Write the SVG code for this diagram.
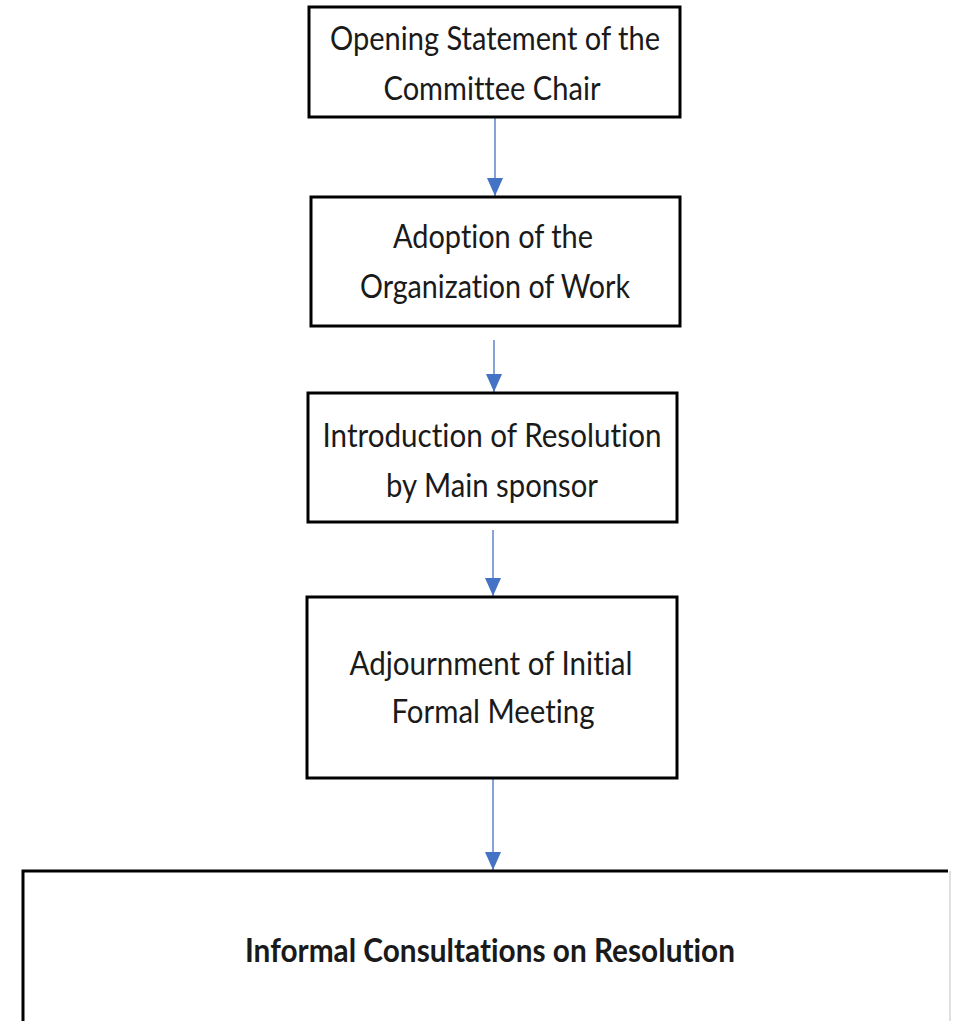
<svg xmlns="http://www.w3.org/2000/svg" width="953" height="1021" viewBox="0 0 953 1021">
  <style>
    .box { fill: #ffffff; stroke: #000000; stroke-width: 3; }
    .lbl { font-family: Lato, "Liberation Sans", sans-serif; font-size: 33px; fill: #1a1a1a; text-anchor: middle; font-variant-ligatures: none; }
    .bold { font-weight: bold; }
    .conn { stroke: #4472C4; stroke-width: 1.3; fill: none; }
  </style>
  <defs>
    <marker id="arrow" markerUnits="userSpaceOnUse" markerWidth="18" markerHeight="16" refX="18" refY="8" orient="auto">
      <path d="M0,0 L18,8 L0,16 Z" fill="#4472C4"/>
    </marker>
  </defs>
  <rect width="953" height="1021" fill="#ffffff"/>

  <g id="connectors">
    <line class="conn" x1="495" y1="118" x2="495" y2="196" marker-end="url(#arrow)"/>
    <line class="conn" x1="494" y1="340" x2="494" y2="392" marker-end="url(#arrow)"/>
    <line class="conn" x1="493" y1="530" x2="493" y2="596" marker-end="url(#arrow)"/>
    <line class="conn" x1="493" y1="779" x2="493" y2="870" marker-end="url(#arrow)"/>
  </g>

  <g id="node-opening">
    <rect class="box" x="309" y="7" width="371" height="110"/>
    <text class="lbl" x="495" y="50" textLength="330" lengthAdjust="spacingAndGlyphs">Opening Statement of the</text>
    <text class="lbl" x="492" y="100" textLength="217" lengthAdjust="spacingAndGlyphs">Committee Chair</text>
  </g>

  <g id="node-adoption">
    <rect class="box" x="311" y="197" width="369" height="129"/>
    <text class="lbl" x="493" y="248" textLength="200" lengthAdjust="spacingAndGlyphs">Adoption of the</text>
    <text class="lbl" x="495" y="298" textLength="270" lengthAdjust="spacingAndGlyphs">Organization of Work</text>
  </g>

  <g id="node-introduction">
    <rect class="box" x="308" y="393" width="369" height="129"/>
    <text class="lbl" x="492" y="447" textLength="339" lengthAdjust="spacingAndGlyphs">Introduction of Resolution</text>
    <text class="lbl" x="492" y="497" textLength="212" lengthAdjust="spacingAndGlyphs">by Main sponsor</text>
  </g>

  <g id="node-adjournment">
    <rect class="box" x="307" y="597" width="370" height="181"/>
    <text class="lbl" x="491" y="675" textLength="283" lengthAdjust="spacingAndGlyphs">Adjournment of Initial</text>
    <text class="lbl" x="493" y="723" textLength="203" lengthAdjust="spacingAndGlyphs">Formal Meeting</text>
  </g>

  <g id="node-informal">
    <rect x="23" y="871" width="925" height="170" fill="#ffffff" stroke="none"/>
    <path d="M23,1030 L23,871 L948,871" fill="none" stroke="#000000" stroke-width="3"/>
    <line x1="950" y1="871" x2="950" y2="1030" stroke="#d6d6d6" stroke-width="1.5"/>
    <text class="lbl bold" x="490" y="962" textLength="490" lengthAdjust="spacingAndGlyphs">Informal Consultations on Resolution</text>
  </g>
</svg>
